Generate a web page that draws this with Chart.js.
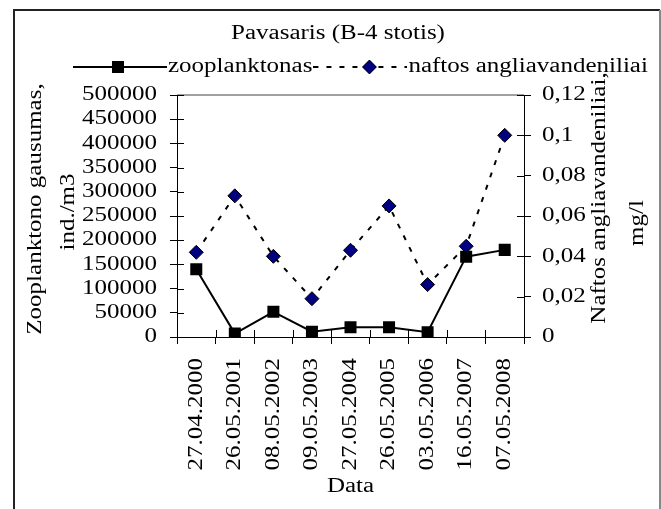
<!DOCTYPE html>
<html>
<head>
<meta charset="utf-8">
<script src="https://cdn.jsdelivr.net/npm/chart.js@4"></script>
<style>
  html, body { margin: 0; padding: 0; background: #fff; overflow: hidden; }
  canvas { display: block; }
</style>
</head>
<body>
<canvas id="canv" width="700" height="509"></canvas>
<script>
const dates = ['27.04.2000', '26.05.2001', '08.05.2002', '09.05.2003', '27.05.2004',
               '26.05.2005', '03.05.2006', '16.05.2007', '07.05.2008'];
const zooplankton = [140000, 7000, 52000, 11000, 20000, 20000, 10000, 166000, 180000];
const naftos = [0.042, 0.07, 0.04, 0.019, 0.043, 0.065, 0.026, 0.045, 0.1];
const leftTitle = ['Zooplanktono gausumas,', 'ind./m3'];
const rightTitle = ['Naftos angliavandeniliai,', 'mg/l'];

const font = { family: 'Liberation Serif', size: 20 };
const STRETCH = 1.25; // the text is set wide along its baseline
const DASH = [5, 8];

const canvas = document.getElementById('canv');
const ctx = canvas.getContext('2d');

// widen every string chart.js writes, and tell the layout about it
const fillText0 = ctx.fillText;
const measureText0 = ctx.measureText;
ctx.fillText = function (text, x, y) {
  this.save();
  this.translate(x, y);
  this.scale(STRETCH, 1);
  fillText0.call(this, text, 0, 0);
  this.restore();
};
ctx.measureText = function (text) {
  const m = measureText0.call(this, text);
  return {
    width: m.width * STRETCH,
    actualBoundingBoxAscent: m.actualBoundingBoxAscent,
    actualBoundingBoxDescent: m.actualBoundingBoxDescent,
    actualBoundingBoxLeft: m.actualBoundingBoxLeft * STRETCH,
    actualBoundingBoxRight: m.actualBoundingBoxRight * STRETCH
  };
};

function drawSquare(g, x, y) {
  g.fillStyle = '#000';
  g.fillRect(x - 6, y - 6, 12, 12);
}
function drawDiamond(g, x, y) {
  g.beginPath();
  g.moveTo(x - 7, y); g.lineTo(x, y - 7); g.lineTo(x + 7, y); g.lineTo(x, y + 7);
  g.closePath();
  g.fillStyle = '#000080';
  g.fill();
  g.lineWidth = 1;
  g.strokeStyle = '#000';
  g.stroke();
}
// line + marker sample for the legend
function legendSample(dash, marker, mx) {
  const c = document.createElement('canvas');
  c.width = 94; c.height = 18;
  const g = c.getContext('2d');
  g.strokeStyle = '#000';
  g.lineWidth = 2;
  g.setLineDash(dash);
  g.beginPath(); g.moveTo(0, 9); g.lineTo(94, 9); g.stroke();
  g.setLineDash([]);
  marker(g, mx, 9);
  return c;
}
const samples = [legendSample([], drawSquare, 45), legendSample(DASH, drawDiamond, 56)];

const extras = {
  id: 'extras',
  beforeDatasetsDraw(chart) {
    const { ctx, chartArea: a, scales } = chart;
    ctx.save();
    ctx.strokeStyle = '#a0a0a0';
    ctx.lineWidth = 2;
    ctx.beginPath(); ctx.moveTo(a.left, a.top); ctx.lineTo(a.right, a.top); ctx.stroke();
    // inner half of the cross tick marks
    ctx.strokeStyle = '#000';
    ctx.lineWidth = 1;
    ctx.beginPath();
    scales.y.ticks.forEach((t, i) => {
      const p = Math.round(scales.y.getPixelForTick(i)) + 0.5;
      ctx.moveTo(a.left, p); ctx.lineTo(a.left + 7, p);
    });
    scales.y1.ticks.forEach((t, i) => {
      const p = Math.round(scales.y1.getPixelForTick(i)) + 0.5;
      ctx.moveTo(a.right - 7, p); ctx.lineTo(a.right, p);
    });
    for (let i = 0; i <= dates.length; i++) {
      const p = Math.round(scales.x.getPixelForValue(i - 0.5)) + 0.5;
      ctx.moveTo(p, a.bottom - 7); ctx.lineTo(p, a.bottom);
    }
    ctx.stroke();
    ctx.restore();
  },
  afterDraw(chart) {
    const { ctx } = chart;
    ctx.save();
    ctx.fillStyle = '#000';
    ctx.font = '20px "Liberation Serif"';
    ctx.textAlign = 'center';
    ctx.textBaseline = 'middle';
    ctx.fillText('Pavasaris (B-4 stotis)', 338, 34);
    const side = (lines, xs, ys) => lines.forEach((s, i) => {
      ctx.save();
      ctx.translate(xs[i], ys[i]);
      ctx.rotate(-Math.PI / 2);
      ctx.fillText(s, 0, 0);
      ctx.restore();
    });
    side(leftTitle, [36, 69], [209, 212]);
    side(rightTitle, [600, 638], [198, 223]);
    // chart border
    ctx.lineWidth = 2;
    ctx.strokeStyle = '#222';
    ctx.beginPath(); ctx.moveTo(14, 600); ctx.lineTo(14, 10); ctx.lineTo(660, 10); ctx.stroke();
    ctx.strokeStyle = '#888';
    ctx.beginPath(); ctx.moveTo(660, 10); ctx.lineTo(660, 600); ctx.stroke();
    ctx.restore();
  }
};

const axisCommon = {
  grid: { drawOnChartArea: false, tickLength: 7, color: '#000', tickColor: '#000' },
  border: { color: '#000', width: 1 }
};

new Chart(ctx, {
  type: 'line',
  data: {
    labels: dates,
    datasets: [{
      label: 'zooplanktonas',
      data: zooplankton,
      yAxisID: 'y',
      borderColor: '#000',
      borderWidth: 2,
      pointStyle: 'rect',
      pointRadius: 8.5,
      pointBackgroundColor: '#000',
      pointBorderColor: '#000',
      pointBorderWidth: 0,
      tension: 0
    }, {
      label: 'naftos angliavandeniliai',
      data: naftos,
      yAxisID: 'y1',
      borderColor: '#000',
      borderWidth: 2,
      borderDash: DASH,
      pointStyle: 'rectRot',
      pointRadius: 7,
      pointBackgroundColor: '#000080',
      pointBorderColor: '#000',
      pointBorderWidth: 1,
      tension: 0
    }]
  },
  options: {
    responsive: false,
    animation: false,
    devicePixelRatio: 1,
    layout: { padding: { left: 72, right: 0, top: 47, bottom: 0 } },
    plugins: {
      tooltip: { enabled: false },
      title: { display: false },
      legend: {
        position: 'top',
        align: 'start',
        labels: {
          color: '#000',
          font: font,
          padding: 10,
          usePointStyle: true,
          pointStyleWidth: 76,
          generateLabels(chart) {
            const items = Chart.defaults.plugins.legend.labels.generateLabels(chart);
            items.forEach((it, i) => { it.pointStyle = samples[i]; });
            return items;
          }
        }
      }
    },
    scales: {
      x: {
        offset: true,
        grid: { ...axisCommon.grid, offset: true },
        border: axisCommon.border,
        ticks: { color: '#000', font: font, minRotation: 90, maxRotation: 90, autoSkip: false, padding: 14 },
        title: { display: true, text: 'Data', color: '#000', font: font, padding: { top: 0, bottom: 10 } },
        afterFit(s) { s.height = 172; }
      },
      // empty strip between the legend and the plot area
      xTop: {
        position: 'top',
        grid: { display: false },
        ticks: { display: false },
        border: { display: false },
        afterFit(s) { s.height = 8; }
      },
      y: {
        position: 'left',
        min: 0,
        max: 500000,
        ...axisCommon,
        ticks: { color: '#000', font: font, stepSize: 50000, autoSkip: false, padding: 13,
                 callback: v => String(v) },
        afterFit(s) { s.width = 105; }
      },
      y1: {
        position: 'right',
        min: 0,
        max: 0.12,
        ...axisCommon,
        ticks: { color: '#000', font: font, stepSize: 0.02, autoSkip: false, padding: 11,
                 callback: v => String(+v.toFixed(2)).replace('.', ',') },
        afterFit(s) { s.width = 176; }
      }
    }
  },
  plugins: [extras]
});
</script>
</body>
</html>
